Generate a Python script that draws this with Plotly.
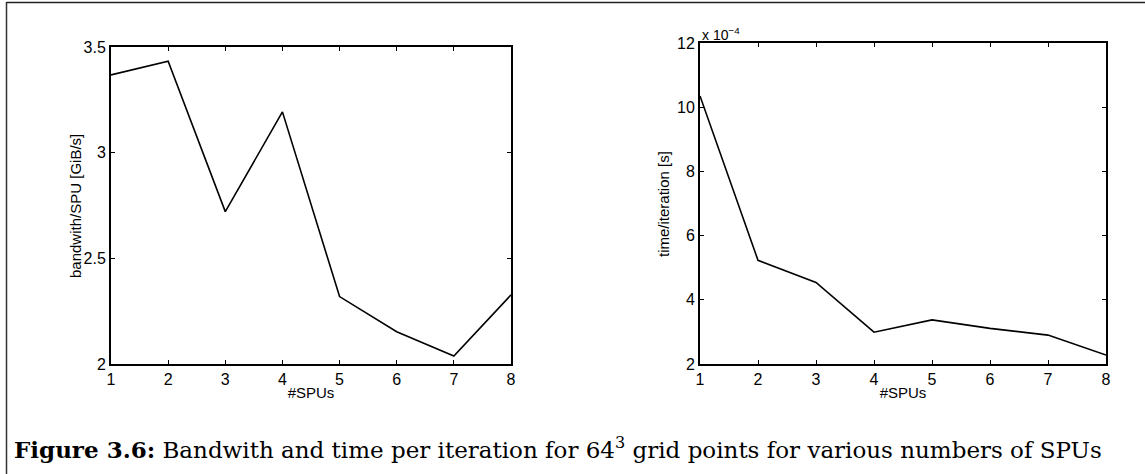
import plotly.graph_objects as go

W, H = 1145, 474

spus = [1, 2, 3, 4, 5, 6, 7, 8]
bandwidth = [3.368, 3.433, 2.721, 3.193, 2.319, 2.153, 2.038, 2.327]
time_per_iter = [10.35e-4, 5.23e-4, 4.54e-4, 2.99e-4, 3.375e-4, 3.11e-4, 2.90e-4, 2.28e-4]

bw_ticks = [2, 2.5, 3, 3.5]
bw_ticktext = ["2", "2.5", "3", "3.5"]
t_ticks = [2e-4, 4e-4, 6e-4, 8e-4, 10e-4, 12e-4]
t_ticktext = ["2", "4", "6", "8", "10", "12"]
x_ticks = [1, 2, 3, 4, 5, 6, 7, 8]

def px_x(p):
    return p / W

def px_y(p):
    return (H - p) / H

fig = go.Figure()
fig.add_trace(go.Scatter(x=spus, y=bandwidth, mode="lines",
                         line=dict(color="black", width=1.6),
                         xaxis="x", yaxis="y", showlegend=False))
fig.add_trace(go.Scatter(x=spus, y=time_per_iter, mode="lines",
                         line=dict(color="black", width=1.6),
                         xaxis="x2", yaxis="y2", showlegend=False))

font_ax = "Liberation Sans, Arial, sans-serif"
title_font = dict(family=font_ax, size=15, color="black")
common = dict(showline=True, linecolor="black", linewidth=2, mirror="allticks",
              ticks="inside", ticklen=4, tickwidth=1, tickcolor="black",
              showgrid=False, zeroline=False, automargin=False,
              tickfont=dict(family=font_ax, size=16, color="black"))

fig.update_layout(
    width=W, height=H,
    margin=dict(l=0, r=0, t=0, b=0),
    paper_bgcolor="white", plot_bgcolor="white",
    xaxis=dict(domain=[px_x(111), px_x(511)], range=[1, 8], tickvals=x_ticks,
               anchor="y", ticklabelstandoff=0,
               title=dict(text="#SPUs", font=title_font, standoff=0),
               **common),
    yaxis=dict(domain=[px_y(364), px_y(47)], range=[2, 3.5], tickvals=bw_ticks,
               ticktext=bw_ticktext, anchor="x", ticklabelstandoff=0,
               **common),
    xaxis2=dict(domain=[px_x(700), px_x(1106)], range=[1, 8], tickvals=x_ticks,
                anchor="y2", ticklabelstandoff=0,
                title=dict(text="#SPUs", font=title_font, standoff=0),
                **common),
    yaxis2=dict(domain=[px_y(364), px_y(43)], range=[2e-4, 12e-4], tickvals=t_ticks,
                ticktext=t_ticktext, anchor="x2", ticklabelstandoff=0,
                **common),
    annotations=[
        dict(text="bandwith/SPU [GiB/s]", xref="paper", yref="paper",
             x=px_x(75), y=px_y(206), xanchor="center", yanchor="middle",
             textangle=-90, showarrow=False, font=title_font),
        dict(text="time/iteration [s]", xref="paper", yref="paper",
             x=px_x(664), y=px_y(204), xanchor="center", yanchor="middle",
             textangle=-90, showarrow=False, font=title_font),
        dict(text="x 10<sup>−4</sup>", xref="paper", yref="paper",
             x=px_x(700), y=px_y(34), xanchor="left", yanchor="middle",
             showarrow=False, font=dict(family=font_ax, size=14, color="black")),
        dict(text="<b>Figure 3.6:</b> Bandwith and time per iteration for 64<sup>3</sup> grid points for various numbers of SPUs",
             xref="paper", yref="paper", x=px_x(12), y=px_y(448),
             xanchor="left", yanchor="middle", showarrow=False,
             font=dict(family="DejaVu Serif, serif", size=23, color="black")),
    ],
    shapes=[
        dict(type="line", xref="paper", yref="paper", x0=px_x(6.5), x1=px_x(6.5),
             y0=px_y(2), y1=px_y(474), line=dict(color="#333333", width=1.5)),
        dict(type="line", xref="paper", yref="paper", x0=px_x(6.5), x1=1.0,
             y0=px_y(2.5), y1=px_y(2.5), line=dict(color="#222222", width=1.5)),
    ],
)

fig.write_html("out.html")
